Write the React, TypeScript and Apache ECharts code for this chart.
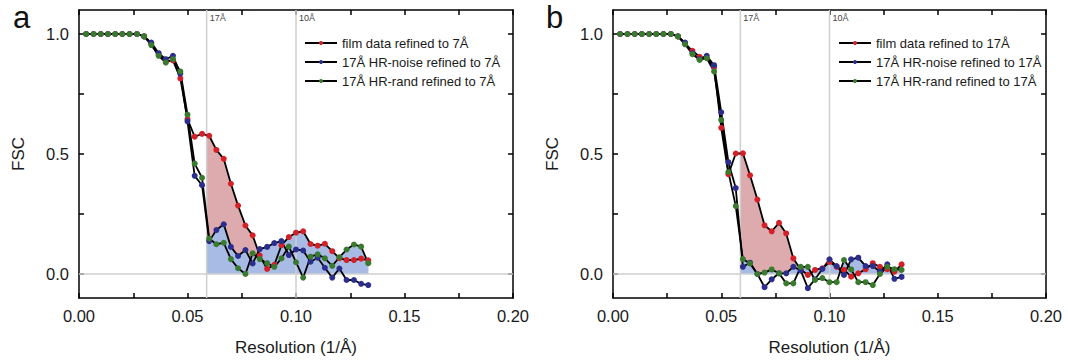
import React, { useEffect, useRef } from "react";
import * as echarts from "echarts";

const FONT = "'Liberation Sans', Arial, Helvetica, sans-serif";

// spatial frequency (1/Å) of each FSC shell
const freq = [
  0.0033, 0.0067, 0.01, 0.0133, 0.0167, 0.02, 0.0233, 0.0267, 0.03, 0.0333,
  0.0367, 0.04, 0.0433, 0.0467, 0.05, 0.0533, 0.0567, 0.06, 0.0633, 0.0667,
  0.07, 0.0733, 0.0767, 0.08, 0.0833, 0.0867, 0.09, 0.0933, 0.0967, 0.1,
  0.1033, 0.1067, 0.11, 0.1133, 0.1167, 0.12, 0.1233, 0.1267, 0.13, 0.1333,
];

// panel a
const filmA = [1, 1, 1, 1, 1, 1, 1, 1, 0.99, 0.96, 0.915, 0.885, 0.89, 0.815, 0.645, 0.572, 0.584, 0.576, 0.517, 0.48, 0.376, 0.285, 0.202, 0.161, 0.077, 0.021, 0.038, 0.12, 0.154, 0.172, 0.178, 0.125, 0.118, 0.126, 0.095, 0.066, 0.058, 0.058, 0.064, 0.057];
const noiseA = [1, 1, 1, 1, 1, 1, 1, 1, 0.99, 0.964, 0.92, 0.895, 0.909, 0.835, 0.636, 0.409, 0.37, 0.137, 0.183, 0.207, 0.113, 0.075, 0.1, 0.044, 0.104, 0.113, 0.129, 0.137, 0.079, 0.102, 0.098, 0.051, 0.068, 0.026, -0.015, 0.023, -0.025, -0.025, -0.041, -0.046];
const randA = [1, 1, 1, 1, 1, 1, 1, 1, 0.99, 0.954, 0.909, 0.881, 0.895, 0.844, 0.664, 0.46, 0.401, 0.148, 0.124, 0.13, 0.062, 0.024, 0.0, 0.086, 0.062, 0.045, 0.03, 0.065, 0.114, 0.049, -0.015, 0.072, 0.082, 0.065, 0.034, 0.07, 0.102, 0.123, 0.114, 0.045];

// panel b
const filmB = [1, 1, 1, 1, 1, 1, 1, 1, 0.99, 0.96, 0.93, 0.905, 0.9, 0.86, 0.609, 0.416, 0.502, 0.503, 0.411, 0.31, 0.203, 0.178, 0.213, 0.169, 0.065, 0.019, -0.004, 0.017, 0.024, 0.05, 0.03, 0.017, -0.011, 0.003, 0.02, 0.045, 0.03, 0.02, 0.01, 0.04];
const noiseB = [1, 1, 1, 1, 1, 1, 1, 1, 0.99, 0.964, 0.92, 0.895, 0.909, 0.87, 0.674, 0.466, 0.358, 0.03, 0.047, 0.0, -0.055, -0.022, 0.003, 0.003, 0.03, 0.015, -0.059, -0.022, 0.021, 0.061, 0.033, -0.004, 0.061, 0.068, 0.033, 0.033, 0.01, 0.04, -0.02, -0.012];
const randB = [1, 1, 1, 1, 1, 1, 1, 1, 0.99, 0.957, 0.916, 0.892, 0.899, 0.844, 0.642, 0.425, 0.283, 0.062, 0.044, 0.0, 0.006, 0.019, 0.003, -0.039, -0.039, 0.03, 0.03, -0.025, -0.017, -0.034, -0.034, 0.058, 0.019, -0.034, -0.034, -0.046, 0.0, 0.03, 0.02, 0.017];

const namesA = ["film data refined to 7Å", "17Å HR-noise refined to 7Å", "17Å HR-rand refined to 7Å"];
const namesB = ["film data refined to 17Å", "17Å HR-noise refined to 17Å", "17Å HR-rand refined to 17Å"];

const resLines = [17, 10]; // Å
const resLabels = ["17Å", "10Å"];
const xTickLabels = [0, 0.05, 0.1, 0.15, 0.2];
const yTicks = [0, 0.25, 0.5, 0.75, 1];
const yTickLabels = [0, 0.5, 1];

const RED = "#d42027";
const BLUE = "#2c2e8e";
const GREEN = "#3a7a2e";
const PINK = "#ddabad";
const LBLUE = "#a7bbe5";

type P = [number, number];

function positive(pts: P[]): P[] {
  const out: P[] = [[pts[0][0], 0]];
  for (let k = 0; k < pts.length; k++) {
    const [x, y] = pts[k];
    if (k > 0) {
      const [px, py] = pts[k - 1];
      if ((py > 0 && y < 0) || (py < 0 && y > 0)) {
        const t = py / (py - y);
        out.push([px + t * (x - px), 0]);
      }
    }
    out.push([x, Math.max(0, y)]);
  }
  out.push([pts[pts.length - 1][0], 0]);
  return out;
}

function fills(film: number[], noise: number[], rand: number[]) {
  const x0 = 1 / resLines[0];
  const s = freq.findIndex((f) => f >= x0);
  const curve = (arr: number[]): P[] => [[x0, arr[s]], ...freq.slice(s).map((f, k) => [f, arr[s + k]] as P)];
  let j = s;
  while (j < freq.length && film[j] > Math.max(noise[j], rand[j])) j++;
  const other = noise[j] >= rand[j] ? noise : rand;
  const d0 = film[j - 1] - other[j - 1];
  const d1 = film[j] - other[j];
  const t = d0 / (d0 - d1);
  const xc = freq[j - 1] + t * (freq[j] - freq[j - 1]);
  const yc = film[j - 1] + t * (film[j] - film[j - 1]);
  const redTop: P[] = [[x0, film[s]], ...freq.slice(s, j).map((f, k) => [f, film[s + k]] as P), [xc, yc]];
  const redAfter: P[] = [[xc, yc], ...freq.slice(j).map((f, k) => [f, film[j + k]] as P)];
  return { pink: positive(redTop), blues: [positive(curve(noise)), positive(curve(rand)), positive(redAfter)] };
}

function panel(g: number, film: number[], noise: number[], rand: number[], names: string[]) {
  const xi = g * 2;
  const yi = g * 2;
  const f = fills(film, noise, rand);
  const series: any[] = [
    {
      type: "custom",
      xAxisIndex: xi,
      yAxisIndex: yi,
      silent: true,
      data: [[0, 0]],
      renderItem: (_p: any, api: any) => ({
        type: "group",
        children: [
          { type: "polygon", shape: { points: f.pink.map((p) => api.coord(p)) }, style: { fill: PINK } },
          ...f.blues.map((poly) => ({ type: "polygon", shape: { points: poly.map((p) => api.coord(p)) }, style: { fill: LBLUE } })),
        ],
      }),
    },
    {
      type: "custom",
      xAxisIndex: xi,
      yAxisIndex: yi,
      silent: true,
      data: [[0, 0]],
      renderItem: (_p: any, api: any) => {
        const children: any[] = [];
        const z0 = api.coord([0, 0]);
        const z1 = api.coord([0.2, 0]);
        children.push({ type: "line", shape: { x1: z0[0], y1: z0[1], x2: z1[0], y2: z1[1] }, style: { stroke: "#cfcfcf", lineWidth: 1.5 } });
        resLines.forEach((r, k) => {
          const a = api.coord([1 / r, -0.1]);
          const b = api.coord([1 / r, 1.1]);
          children.push({ type: "line", shape: { x1: a[0], y1: a[1], x2: b[0], y2: b[1] }, style: { stroke: "#cfcfcf", lineWidth: 1.5 } });
          children.push({
            type: "text",
            x: b[0] + 3,
            y: b[1] + 8,
            style: { text: resLabels[k], fill: "#444", font: `9px ${FONT}`, align: "left", verticalAlign: "middle" },
          });
        });
        return { type: "group", children };
      },
    },
  ];
  const cols = [RED, BLUE, GREEN];
  [film, noise, rand].forEach((arr, k) => {
    series.push({
      type: "line",
      name: names[k],
      xAxisIndex: xi,
      yAxisIndex: yi,
      data: freq.map((x, i) => [x, arr[i]]),
      symbol: "circle",
      symbolSize: 6,
      showAllSymbol: true,
      lineStyle: { color: "#000", width: 1.8 },
      itemStyle: { color: cols[k] },
      emphasis: { disabled: true },
    });
  });
  return series;
}

function axes(g: number) {
  const axisLine = { show: true, onZero: false, lineStyle: { color: "#000", width: 1.5 } };
  const axisTick = { show: true, inside: true, length: 5, lineStyle: { color: "#000", width: 1.5 } };
  const x = [
    {
      type: "value", gridIndex: g, min: 0, max: 0.2, interval: 0.025, position: "bottom",
      axisLine, axisTick, splitLine: { show: false },
      axisLabel: { customValues: xTickLabels, formatter: (v: number) => v.toFixed(2), fontSize: 16.5, color: "#1a1a1a", margin: 9, fontFamily: FONT },
      name: "Resolution (1/Å)", nameLocation: "middle", nameGap: 41,
      nameTextStyle: { fontSize: 17, color: "#1a1a1a", fontFamily: FONT },
    },
    {
      type: "value", gridIndex: g, min: 0, max: 0.2, interval: 0.025, position: "top",
      axisLine, axisTick, splitLine: { show: false }, axisLabel: { show: false },
    },
  ];
  const y = [
    {
      type: "value", gridIndex: g, min: -0.1, max: 1.1, position: "left",
      axisLine, axisTick: { ...axisTick, customValues: yTicks }, splitLine: { show: false },
      axisLabel: { customValues: yTickLabels, formatter: (v: number) => v.toFixed(1), fontSize: 16.5, color: "#1a1a1a", margin: 10, fontFamily: FONT },
      name: "FSC", nameLocation: "middle", nameGap: 52, nameRotate: 90,
      nameTextStyle: { fontSize: 17, color: "#1a1a1a", fontFamily: FONT },
    },
    {
      type: "value", gridIndex: g, min: -0.1, max: 1.1, position: "right",
      axisLine, axisTick: { ...axisTick, customValues: yTicks }, splitLine: { show: false }, axisLabel: { show: false },
    },
  ];
  return { x, y };
}

export default function App() {
  const ref = useRef<HTMLDivElement>(null);
  useEffect(() => {
    if (!ref.current) return;
    const chart = echarts.init(ref.current, undefined, { renderer: "svg" });
    const a0 = axes(0);
    const a1 = axes(1);
    const legendBase = {
      orient: "vertical",
      itemWidth: 32,
      itemHeight: 5,
      itemGap: 5,
      padding: 0,
      textStyle: { fontSize: 13, lineHeight: 14, color: "#1a1a1a", fontFamily: FONT },
      selectedMode: false,
    };
    chart.setOption({
      animation: false,
      backgroundColor: "#fff",
      title: [
        { text: "a", left: 8, top: -3, textStyle: { fontSize: 31, fontWeight: "normal", color: "#111", fontFamily: FONT } },
        { text: "b", left: 541, top: -3, textStyle: { fontSize: 31, fontWeight: "normal", color: "#111", fontFamily: FONT } },
      ],
      grid: [
        { left: 79, right: 555, top: 10, bottom: 64 },
        { left: 613, right: 22, top: 10, bottom: 64 },
      ],
      xAxis: [...a0.x, ...a1.x],
      yAxis: [...a0.y, ...a1.y],
      legend: [
        { ...legendBase, data: namesA, left: 304, top: 36 },
        { ...legendBase, data: namesB, left: 838, top: 36 },
      ],
      series: [
        ...panel(0, filmA, noiseA, randA, namesA),
        ...panel(1, filmB, noiseB, randB, namesB),
      ],
    });
    return () => chart.dispose();
  }, []);
  return <div ref={ref} style={{ position: "absolute", left: 0, top: 0, width: 1068, height: 362 }} />;
}
